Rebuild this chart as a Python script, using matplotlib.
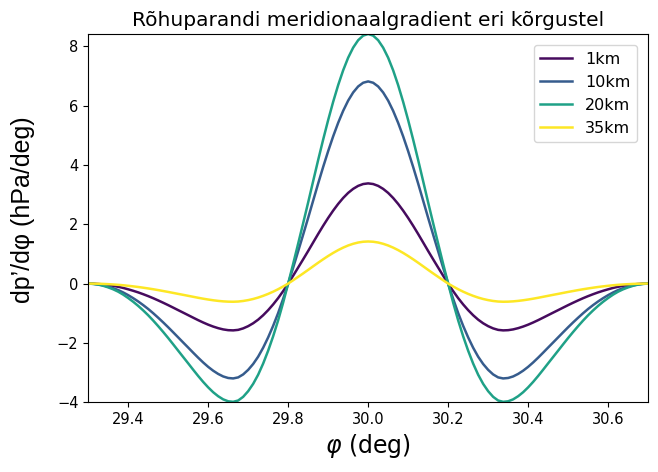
import numpy as np
import matplotlib
matplotlib.use("Agg")
import matplotlib.pyplot as plt

# latitude grid (deg), 0.0125 deg spacing
phi = np.linspace(29.3, 30.7, 113)

heights = ["1km", "10km", "20km", "35km"]
height_km = [1, 10, 20, 35]

# dp'/dphi (hPa/deg)
grad_1km = [
    0.000, -0.004, -0.014, -0.029, -0.051, -0.076, -0.108, -0.147, -0.193, -0.243,
    -0.297, -0.358, -0.423, -0.493, -0.568, -0.646, -0.727, -0.811, -0.896, -0.980,
    -1.065, -1.150, -1.234, -1.313, -1.386, -1.450, -1.504, -1.546, -1.572, -1.579,
    -1.562, -1.512, -1.437, -1.339, -1.217, -1.068, -0.896, -0.703, -0.490, -0.254,
    0.000, 0.266, 0.541, 0.818, 1.099, 1.387, 1.673, 1.950, 2.214, 2.461,
    2.687, 2.888, 3.059, 3.195, 3.296, 3.358,
    3.380,
    3.358, 3.296, 3.195, 3.059, 2.888, 2.687, 2.461, 2.214, 1.950, 1.673,
    1.387, 1.099, 0.818, 0.541, 0.266, 0.000, -0.254, -0.490, -0.703, -0.896,
    -1.068, -1.217, -1.339, -1.437, -1.512, -1.562, -1.579, -1.572, -1.546, -1.504,
    -1.450, -1.386, -1.313, -1.234, -1.150, -1.065, -0.980, -0.896, -0.811, -0.727,
    -0.646, -0.568, -0.493, -0.423, -0.358, -0.297, -0.243, -0.193, -0.147, -0.108,
    -0.076, -0.051, -0.029, -0.014, -0.004, 0.000]

grad_10km = [
    0.000, -0.009, -0.027, -0.060, -0.103, -0.155, -0.219, -0.299, -0.390, -0.492,
    -0.603, -0.725, -0.856, -0.999, -1.151, -1.309, -1.473, -1.643, -1.815, -1.987,
    -2.158, -2.331, -2.500, -2.661, -2.809, -2.939, -3.048, -3.133, -3.185, -3.200,
    -3.165, -3.065, -2.911, -2.713, -2.466, -2.164, -1.815, -1.425, -0.993, -0.514,
    0.000, 0.537, 1.091, 1.650, 2.217, 2.798, 3.376, 3.934, 4.467, 4.966,
    5.422, 5.827, 6.172, 6.447, 6.650, 6.775,
    6.820,
    6.775, 6.650, 6.447, 6.172, 5.827, 5.422, 4.966, 4.467, 3.934, 3.376,
    2.798, 2.217, 1.650, 1.091, 0.537, 0.000, -0.514, -0.993, -1.425, -1.815,
    -2.164, -2.466, -2.713, -2.911, -3.065, -3.165, -3.200, -3.185, -3.133, -3.048,
    -2.939, -2.809, -2.661, -2.500, -2.331, -2.158, -1.987, -1.815, -1.643, -1.473,
    -1.309, -1.151, -0.999, -0.856, -0.725, -0.603, -0.492, -0.390, -0.299, -0.219,
    -0.155, -0.103, -0.060, -0.027, -0.009, 0.000]

grad_20km = [
    0.000, -0.011, -0.034, -0.074, -0.128, -0.193, -0.273, -0.372, -0.487, -0.613,
    -0.752, -0.904, -1.068, -1.246, -1.435, -1.632, -1.836, -2.048, -2.263, -2.477,
    -2.690, -2.906, -3.117, -3.317, -3.501, -3.665, -3.800, -3.906, -3.971, -3.989,
    -3.945, -3.821, -3.630, -3.383, -3.074, -2.698, -2.263, -1.777, -1.238, -0.641,
    0.000, 0.664, 1.347, 2.037, 2.737, 3.455, 4.168, 4.857, 5.515, 6.131,
    6.694, 7.194, 7.620, 7.959, 8.210, 8.364,
    8.420,
    8.364, 8.210, 7.959, 7.620, 7.194, 6.694, 6.131, 5.515, 4.857, 4.168,
    3.455, 2.737, 2.037, 1.347, 0.664, 0.000, -0.641, -1.238, -1.777, -2.263,
    -2.698, -3.074, -3.383, -3.630, -3.821, -3.945, -3.989, -3.971, -3.906, -3.800,
    -3.665, -3.501, -3.317, -3.117, -2.906, -2.690, -2.477, -2.263, -2.048, -1.836,
    -1.632, -1.435, -1.246, -1.068, -0.904, -0.752, -0.613, -0.487, -0.372, -0.273,
    -0.193, -0.128, -0.074, -0.034, -0.011, 0.000]

grad_35km = [
    0.000, -0.002, -0.005, -0.011, -0.020, -0.030, -0.042, -0.057, -0.075, -0.094,
    -0.115, -0.139, -0.164, -0.191, -0.220, -0.251, -0.282, -0.315, -0.348, -0.380,
    -0.413, -0.446, -0.479, -0.510, -0.538, -0.563, -0.584, -0.600, -0.610, -0.613,
    -0.606, -0.587, -0.558, -0.520, -0.472, -0.414, -0.348, -0.273, -0.190, -0.098,
    0.000, 0.112, 0.227, 0.343, 0.462, 0.583, 0.703, 0.819, 0.930, 1.034,
    1.129, 1.213, 1.285, 1.342, 1.385, 1.411,
    1.420,
    1.411, 1.385, 1.342, 1.285, 1.213, 1.129, 1.034, 0.930, 0.819, 0.703,
    0.583, 0.462, 0.343, 0.227, 0.112, 0.000, -0.098, -0.190, -0.273, -0.348,
    -0.414, -0.472, -0.520, -0.558, -0.587, -0.606, -0.613, -0.610, -0.600, -0.584,
    -0.563, -0.538, -0.510, -0.479, -0.446, -0.413, -0.380, -0.348, -0.315, -0.282,
    -0.251, -0.220, -0.191, -0.164, -0.139, -0.115, -0.094, -0.075, -0.057, -0.042,
    -0.030, -0.020, -0.011, -0.005, -0.002, 0.000]

series = [grad_1km, grad_10km, grad_20km, grad_35km]

fig = plt.figure(figsize=(6.58, 4.72), dpi=100)
ax = fig.add_axes([0.134, 0.148, 0.851, 0.780])

cmap = plt.get_cmap("viridis")
for label, z, vals in zip(heights, height_km, series):
    ax.plot(phi, vals, color=cmap(z / 35.0), lw=1.8, label=label)

ax.margins(0)
ax.set_xticks([29.4, 29.6, 29.8, 30.0, 30.2, 30.4, 30.6])
ax.set_yticks([-4, -2, 0, 2, 4, 6, 8])
ax.tick_params(labelsize=10.5)

ax.set_title("Rõhuparandi meridionaalgradient eri kõrgustel", fontsize=14.5)
ax.set_xlabel(r"$\varphi$ (deg)", fontsize=17)
ax.set_ylabel("dp’/dφ (hPa/deg)", fontsize=18,
              family=["Liberation Sans", "DejaVu Sans"])
ax.yaxis.set_label_coords(-0.095, 0.522)
ax.legend(loc="upper right", fontsize=11.5, borderaxespad=0.7)

fig.savefig("out.png", dpi=100)
